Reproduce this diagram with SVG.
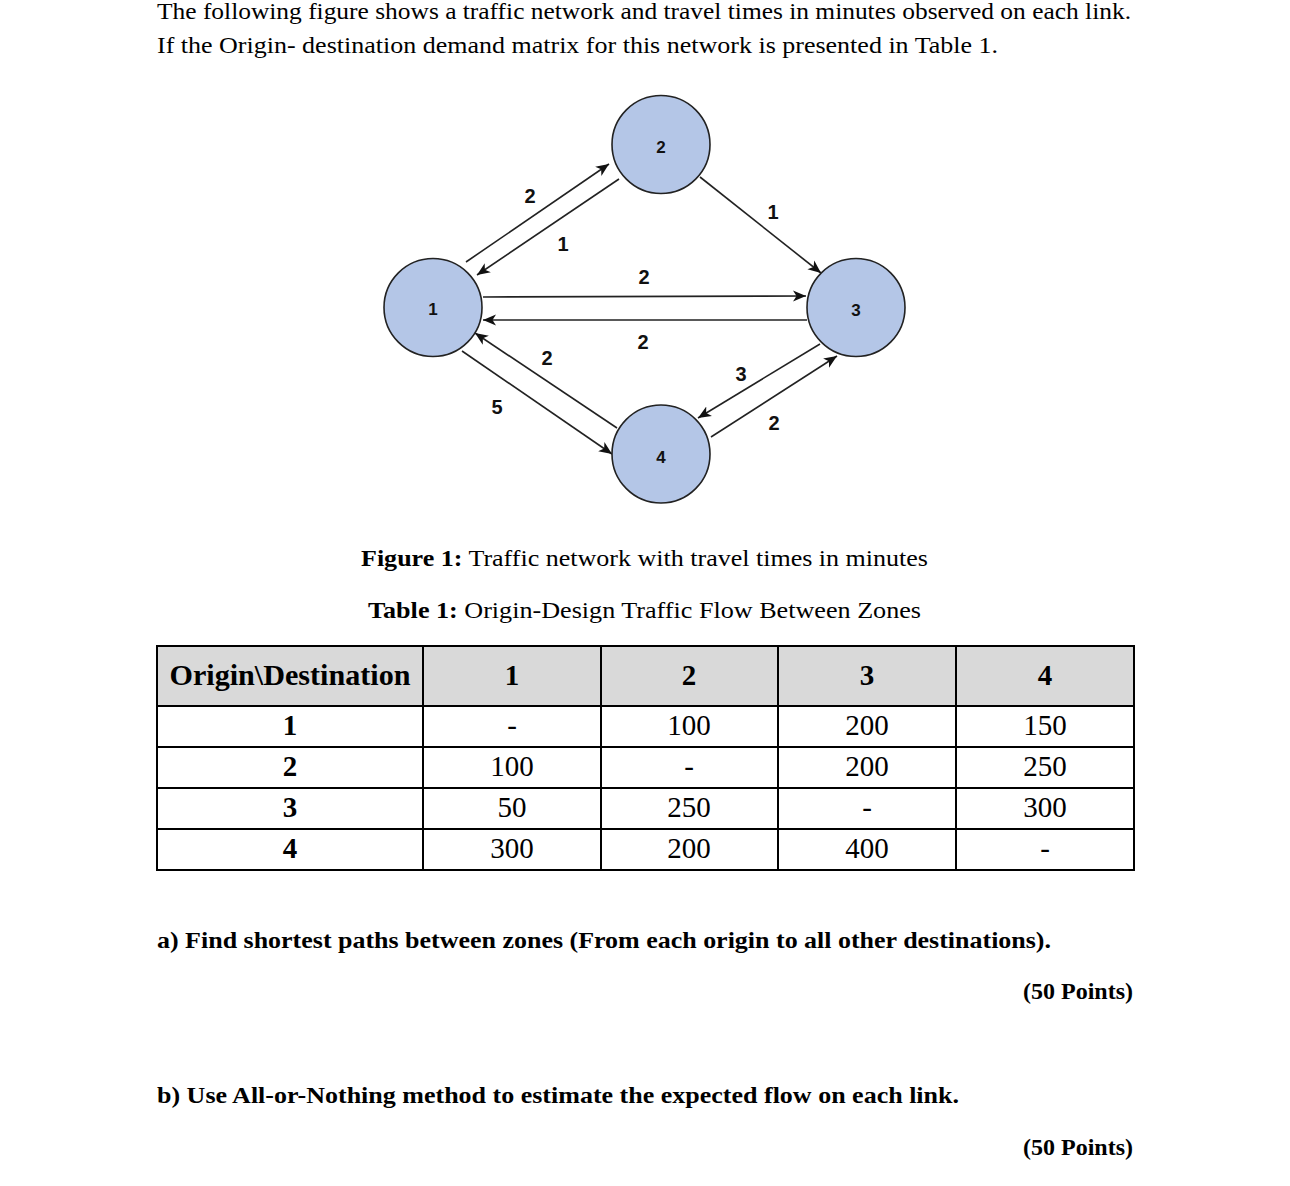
<svg xmlns="http://www.w3.org/2000/svg" width="1290" height="1186" viewBox="0 0 1290 1186">
<style>
.body{font-family:"Liberation Serif","Times New Roman",serif;font-size:24px;fill:#000}
.b{font-weight:bold}
.node circle{fill:#b4c6e7;stroke:#222;stroke-width:1.6}
.node text{font-family:"Liberation Sans",Arial,sans-serif;font-weight:bold;font-size:17px;fill:#111;text-anchor:middle;dominant-baseline:central}
.edge{stroke:#222;stroke-width:1.6;fill:none;marker-end:url(#arr)}
.elab{font-family:"Liberation Sans",Arial,sans-serif;font-weight:bold;font-size:20px;fill:#111;text-anchor:middle;dominant-baseline:central}
.tbl{font-family:"Liberation Serif","Times New Roman",serif;font-size:29px;fill:#000;text-anchor:middle}
.grid{stroke:#000;stroke-width:2;fill:none}
</style>
<defs>
<marker id="arr" markerUnits="userSpaceOnUse" markerWidth="14" markerHeight="12" viewBox="0 0 14 12" refX="13" refY="6" orient="auto">
<path d="M0,0.5 L13,6 L0,11.5 L3.5,6 Z" fill="#111"/>
</marker>
</defs>
<rect width="1290" height="1186" fill="#fff"/>
<text class="body" x="157" y="19" textLength="974" lengthAdjust="spacingAndGlyphs">The following figure shows a traffic network and travel times in minutes observed on each link.</text>
<text class="body" x="157" y="53" textLength="841" lengthAdjust="spacingAndGlyphs">If the Origin- destination demand matrix for this network is presented in Table 1.</text>

<g id="connectors">
<line class="edge" x1="466" y1="262" x2="609" y2="164"/>
<line class="edge" x1="619" y1="179" x2="477" y2="275"/>
<line class="edge" x1="483" y1="297" x2="806" y2="296"/>
<line class="edge" x1="807" y1="320" x2="483" y2="320"/>
<line class="edge" x1="700" y1="177" x2="821" y2="273"/>
<line class="edge" x1="617" y1="428" x2="475" y2="333"/>
<line class="edge" x1="462" y1="351" x2="612" y2="454"/>
<line class="edge" x1="820" y1="344" x2="698" y2="418"/>
<line class="edge" x1="711" y1="437" x2="837" y2="356"/>
<text class="elab" x="530" y="196">2</text>
<text class="elab" x="563" y="244">1</text>
<text class="elab" x="644" y="277">2</text>
<text class="elab" x="643" y="342">2</text>
<text class="elab" x="773" y="212">1</text>
<text class="elab" x="547" y="358">2</text>
<text class="elab" x="497" y="407">5</text>
<text class="elab" x="741" y="374">3</text>
<text class="elab" x="774" y="423">2</text>
</g>

<g id="node1" class="node"><circle cx="433" cy="307.5" r="49"/><text x="433" y="309">1</text></g>
<g id="node2" class="node"><circle cx="661" cy="144.5" r="49"/><text x="661" y="147">2</text></g>
<g id="node3" class="node"><circle cx="856" cy="307.5" r="49"/><text x="856" y="310">3</text></g>
<g id="node4" class="node"><circle cx="661" cy="454" r="49"/><text x="661" y="457">4</text></g>

<text class="body" x="361" y="566" textLength="567" lengthAdjust="spacingAndGlyphs"><tspan class="b">Figure 1:</tspan> Traffic network with travel times in minutes</text>
<text class="body" x="368" y="618" textLength="553" lengthAdjust="spacingAndGlyphs"><tspan class="b">Table 1:</tspan> Origin-Design Traffic Flow Between Zones</text>

<g id="table">
<rect x="157" y="646" width="977" height="60" fill="#d9d9d9"/>
<rect class="grid" x="157" y="646" width="977" height="224"/>
<line class="grid" x1="157" y1="706" x2="1134" y2="706"/>
<line class="grid" x1="157" y1="747" x2="1134" y2="747"/>
<line class="grid" x1="157" y1="788" x2="1134" y2="788"/>
<line class="grid" x1="157" y1="829" x2="1134" y2="829"/>
<line class="grid" x1="423" y1="646" x2="423" y2="870"/>
<line class="grid" x1="601" y1="646" x2="601" y2="870"/>
<line class="grid" x1="778" y1="646" x2="778" y2="870"/>
<line class="grid" x1="956" y1="646" x2="956" y2="870"/>
<g class="tbl b">
<text x="290" y="685" textLength="241" lengthAdjust="spacingAndGlyphs">Origin\Destination</text>
<text x="512" y="685">1</text><text x="689" y="685">2</text><text x="867" y="685">3</text><text x="1045" y="685">4</text>
<text x="290" y="735">1</text><text x="290" y="776">2</text><text x="290" y="817">3</text><text x="290" y="858">4</text>
</g>
<g class="tbl">
<text x="512" y="735">-</text><text x="689" y="735">100</text><text x="867" y="735">200</text><text x="1045" y="735">150</text>
<text x="512" y="776">100</text><text x="689" y="776">-</text><text x="867" y="776">200</text><text x="1045" y="776">250</text>
<text x="512" y="817">50</text><text x="689" y="817">250</text><text x="867" y="817">-</text><text x="1045" y="817">300</text>
<text x="512" y="858">300</text><text x="689" y="858">200</text><text x="867" y="858">400</text><text x="1045" y="858">-</text>
</g>
</g>

<text class="body b" x="157" y="948" textLength="894" lengthAdjust="spacingAndGlyphs">a) Find shortest paths between zones (From each origin to all other destinations).</text>
<text class="body b" x="1133" y="999" text-anchor="end">(50 Points)</text>
<text class="body b" x="157" y="1103" textLength="802" lengthAdjust="spacingAndGlyphs">b) Use All-or-Nothing method to estimate the expected flow on each link.</text>
<text class="body b" x="1133" y="1155" text-anchor="end">(50 Points)</text>
</svg>
